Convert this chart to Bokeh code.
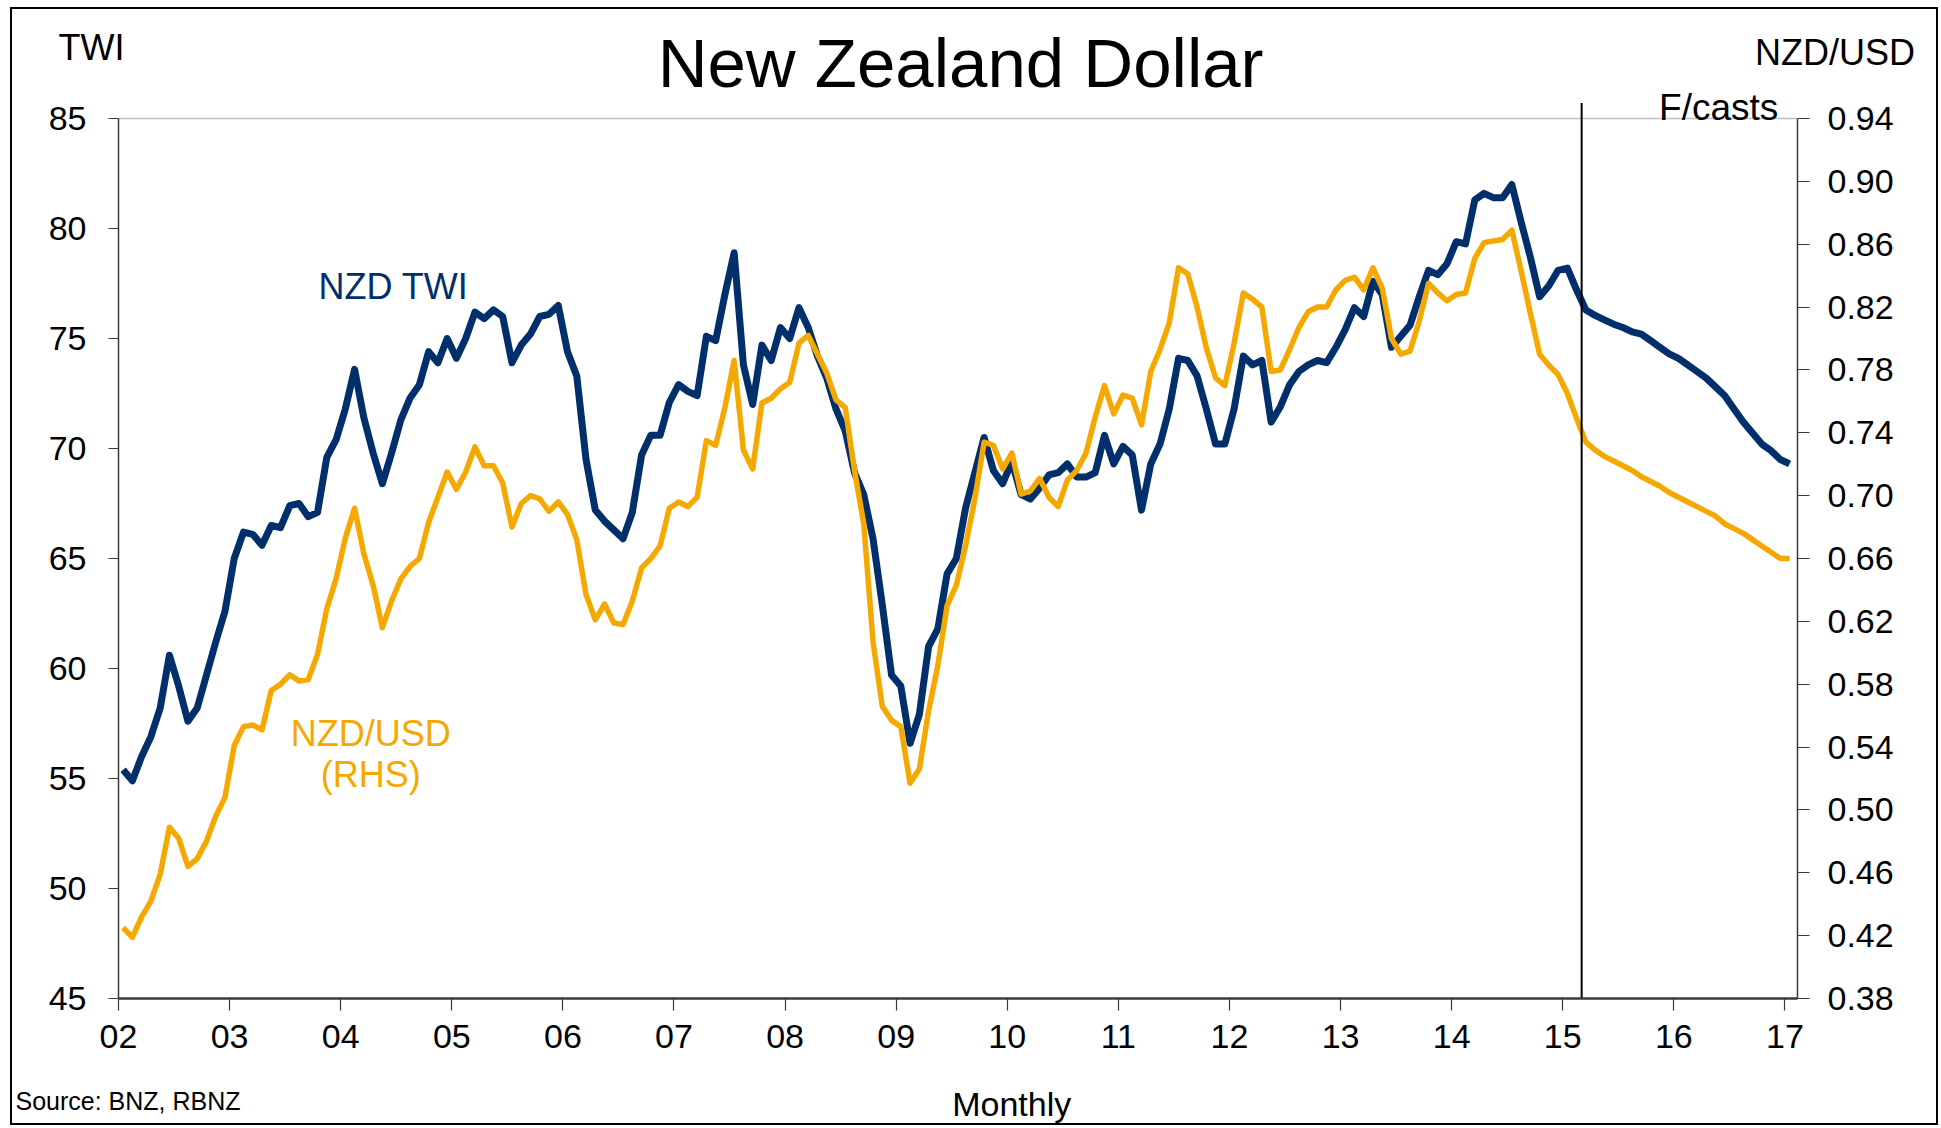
from bokeh.plotting import figure
from bokeh.layouts import column, row
from bokeh.models import (Range1d, LinearAxis, FixedTicker, NumeralTickFormatter,
                          Label, ColumnDataSource, Spacer)
from bokeh.embed import file_html
from bokeh.resources import INLINE

# ---------------- data (monthly, Jan 2002 .. Jan 2017) ----------------
start_year = 2002
nzd_twi = [
    55.4, 54.9, 56.0, 56.9, 58.2, 60.6, 59.2, 57.6, 58.2, 59.7, 61.2, 62.6,   # 2002
    65.0, 66.2, 66.1, 65.6, 66.5, 66.4, 67.4, 67.5, 66.9, 67.1, 69.6, 70.4,   # 2003
    71.8, 73.6, 71.4, 69.8, 68.4, 69.8, 71.3, 72.3, 72.9, 74.4, 73.9, 75.0,   # 2004
    74.1, 75.0, 76.2, 75.9, 76.3, 76.0, 73.9, 74.7, 75.2, 76.0, 76.1, 76.5,   # 2005
    74.4, 73.3, 69.5, 67.2, 66.7, 66.3, 65.9, 67.1, 69.7, 70.6, 70.6, 72.1,   # 2006
    72.9, 72.6, 72.4, 75.1, 74.9, 77.0, 78.9, 73.8, 72.0, 74.7, 74.0, 75.5,   # 2007
    75.0, 76.4, 75.5, 74.2, 73.2, 71.8, 70.8, 68.9, 67.9, 65.9, 62.9, 59.7,   # 2008
    59.2, 56.6, 57.9, 61.0, 61.8, 64.3, 65.0, 67.3, 68.9, 70.5, 69.0, 68.4,   # 2009
    69.4, 67.9, 67.7, 68.2, 68.8, 68.9, 69.3, 68.7, 68.7, 68.9, 70.6, 69.3,   # 2010
    70.1, 69.7, 67.2, 69.3, 70.2, 71.8, 74.1, 74.0, 73.3, 71.8, 70.2, 70.2,   # 2011
    71.8, 74.2, 73.8, 74.0, 71.2, 71.9, 72.9, 73.5, 73.8, 74.0, 73.9, 74.6,   # 2012
    75.4, 76.4, 76.0, 77.6, 77.0, 74.6, 75.1, 75.6, 76.9, 78.1, 77.9, 78.4,   # 2013
    79.4, 79.3, 81.3, 81.6, 81.4, 81.4, 82.0, 80.3, 78.7, 76.9, 77.4, 78.1,   # 2014
    78.2, 77.2, 76.3, 76.05, 75.85, 75.65, 75.5, 75.3, 75.2, 74.9, 74.6, 74.3,  # 2015
    74.1, 73.8, 73.5, 73.2, 72.8, 72.4, 71.8, 71.2, 70.7, 70.2, 69.9, 69.5,   # 2016
    69.3,                                                                     # 2017
]
nzd_usd = [
    0.425, 0.419, 0.432, 0.442, 0.459, 0.489, 0.482, 0.464, 0.469, 0.480, 0.496, 0.508,  # 2002
    0.541, 0.553, 0.554, 0.551, 0.576, 0.580, 0.586, 0.582, 0.583, 0.599, 0.628, 0.647,  # 2003
    0.673, 0.692, 0.663, 0.643, 0.616, 0.633, 0.647, 0.655, 0.660, 0.683, 0.699, 0.715,  # 2004
    0.704, 0.715, 0.731, 0.719, 0.719, 0.708, 0.680, 0.695, 0.700, 0.698, 0.690, 0.696,  # 2005
    0.688, 0.672, 0.637, 0.621, 0.631, 0.619, 0.618, 0.633, 0.654, 0.660, 0.668, 0.692,  # 2006
    0.696, 0.693, 0.699, 0.735, 0.732, 0.756, 0.786, 0.729, 0.717, 0.759, 0.762, 0.768,  # 2007
    0.772, 0.797, 0.802, 0.790, 0.778, 0.761, 0.756, 0.716, 0.682, 0.607, 0.566, 0.557,  # 2008
    0.553, 0.517, 0.526, 0.563, 0.592, 0.630, 0.643, 0.668, 0.698, 0.734, 0.732, 0.717,  # 2009
    0.727, 0.701, 0.703, 0.711, 0.699, 0.693, 0.710, 0.716, 0.727, 0.750, 0.770, 0.752,  # 2010
    0.764, 0.762, 0.745, 0.779, 0.793, 0.810, 0.845, 0.841, 0.820, 0.794, 0.775, 0.770,  # 2011
    0.797, 0.829, 0.825, 0.820, 0.779, 0.780, 0.793, 0.807, 0.817, 0.820, 0.820, 0.831,  # 2012
    0.837, 0.839, 0.831, 0.845, 0.832, 0.800, 0.790, 0.792, 0.811, 0.835, 0.829, 0.824,  # 2013
    0.828, 0.829, 0.851, 0.861, 0.862, 0.863, 0.869, 0.843, 0.816, 0.790, 0.783, 0.777,  # 2014
    0.765, 0.749, 0.734, 0.729, 0.725, 0.722, 0.719, 0.716, 0.712, 0.709, 0.706, 0.702,  # 2015
    0.699, 0.696, 0.693, 0.690, 0.687, 0.682, 0.679, 0.676, 0.672, 0.668, 0.664, 0.660,  # 2016
    0.660,                                                                              # 2017
]
forecast_start = 2015.17
x_tick_years = list(range(2002, 2018))
x_tick_labels = ["02", "03", "04", "05", "06", "07", "08", "09",
                 "10", "11", "12", "13", "14", "15", "16", "17"]
twi_ticks = [45, 50, 55, 60, 65, 70, 75, 80, 85]
usd_ticks = [0.38, 0.42, 0.46, 0.50, 0.54, 0.58, 0.62, 0.66, 0.70,
             0.74, 0.78, 0.82, 0.86, 0.90, 0.94]

# axis extents (the plotted box)
X0, X1 = 2002.0, 2017.113
TWI0, TWI1 = 45.0, 85.0
USD0, USD1 = 0.38, 0.94

months_x = [start_year + (i + 0.5) / 12 for i in range(len(nzd_twi))]
src = ColumnDataSource(dict(x=months_x, twi=nzd_twi, usd=nzd_usd))

# ---------------- layout geometry (pixels) ----------------
OFF_X, OFF_Y = 10, 7                 # position of the chart's frame on the page
W, H = 1928, 1118
box_left, box_right = 108, 1787      # plotted box inside the canvas
box_top, box_bottom = 111, 991
sx = (box_right - box_left) / (X1 - X0)
sy = (box_bottom - box_top) / (TWI1 - TWI0)
xr0 = X0 - box_left / sx
xr1 = X1 + (W - box_right) / sx
yr1 = TWI1 + box_top / sy
yr0 = TWI0 - (H - box_bottom) / sy
k = (USD1 - USD0) / (TWI1 - TWI0)
ur0 = USD0 + (yr0 - TWI0) * k
ur1 = USD0 + (yr1 - TWI0) * k

NAVY = "#002F6C"
GOLD = "#F5A800"
FONT = "Liberation Sans"
AX = "#3a3a3a"
TICK_FS = "34px"

p = figure(width=W, height=H,
           x_range=Range1d(xr0, xr1), y_range=Range1d(yr0, yr1),
           min_border_left=0, min_border_right=0,
           min_border_top=0, min_border_bottom=0,
           output_backend="svg", toolbar_location=None)
p.outline_line_color = "black"
p.outline_line_width = 3
p.background_fill_color = "white"
p.border_fill_color = "white"
p.xgrid.visible = False
p.ygrid.visible = False

p.extra_y_ranges = {"usd": Range1d(ur0, ur1)}

# top line of the box (light grey)
p.segment(x0=X0, y0=TWI1, x1=X1, y1=TWI1, line_color="#c0c0c0", line_width=1.5)

# bottom axis
xa = p.xaxis[0]
xa.fixed_location = TWI0
xa.bounds = (X0, X1)
xa.ticker = FixedTicker(ticks=x_tick_years)
xa.major_label_overrides = {y: l for y, l in zip(x_tick_years, x_tick_labels)}
xa.major_tick_out = 12
xa.major_tick_in = 0
xa.minor_tick_out = 0
xa.minor_tick_in = 0
xa.axis_line_color = AX
xa.axis_line_width = 2.5
xa.major_tick_line_color = AX
xa.major_tick_line_width = 1.2
xa.major_label_text_font = FONT
xa.major_label_text_font_size = TICK_FS
xa.major_label_text_color = "black"
xa.major_label_standoff = 14

# left axis
ya = p.yaxis[0]
ya.fixed_location = X0
ya.bounds = (TWI0, TWI1)
ya.ticker = FixedTicker(ticks=twi_ticks)
ya.major_tick_out = 10
ya.major_tick_in = 0
ya.minor_tick_out = 0
ya.minor_tick_in = 0
ya.axis_line_color = AX
ya.axis_line_width = 1.5
ya.major_tick_line_color = AX
ya.major_tick_line_width = 1.2
ya.major_label_text_font = FONT
ya.major_label_text_font_size = TICK_FS
ya.major_label_text_color = "black"
ya.major_label_standoff = 22

# right axis
ra = LinearAxis(y_range_name="usd", ticker=FixedTicker(ticks=usd_ticks),
                formatter=NumeralTickFormatter(format="0.00"),
                fixed_location=X1, bounds=(USD0, USD1))
ra.major_tick_out = 12
ra.major_tick_in = 0
ra.minor_tick_out = 0
ra.minor_tick_in = 0
ra.axis_line_color = AX
ra.axis_line_width = 1.5
ra.major_tick_line_color = AX
ra.major_tick_line_width = 1.2
ra.major_label_text_font = FONT
ra.major_label_text_font_size = TICK_FS
ra.major_label_text_color = "black"
ra.major_label_standoff = 18
p.add_layout(ra, "right")

# series
p.line("x", "twi", source=src, line_color=NAVY, line_width=7, line_join="round")
p.line("x", "usd", source=src, y_range_name="usd", line_color=GOLD,
       line_width=5.5, line_join="round")

# forecast divider
p.segment(x0=forecast_start, y0=TWI0, x1=forecast_start, y1=TWI1 + 0.7,
          line_color="black", line_width=2)

def lab(text, x, y, size, color="black", align="left"):
    p.add_layout(Label(x=x, y=y, text=text, text_font=FONT,
                       text_font_size=size, text_color=color,
                       text_align=align, text_baseline="middle"))

lab("New Zealand Dollar", 2009.58, 87.52, "69px", align="center")
lab("TWI", 2001.46, 88.25, "36px")
lab("NZD/USD", 2018.17, 88.0, "36px", align="right")
lab("F/casts", 2016.94, 85.52, "37px", align="right")
lab("NZD TWI", 2003.8, 77.36, "36px", color=NAVY)
lab("NZD/USD", 2004.27, 57.05, "36px", color=GOLD, align="center")
lab("(RHS)", 2004.27, 55.18, "36px", color=GOLD, align="center")
lab("Monthly", 2010.04, 40.2, "34px", align="center")
lab("Source: BNZ, RBNZ", 2001.073, 40.32, "25px")

layout = column(Spacer(height=OFF_Y), row(Spacer(width=OFF_X), p))
open("out.html", "w").write(file_html(layout, INLINE))
